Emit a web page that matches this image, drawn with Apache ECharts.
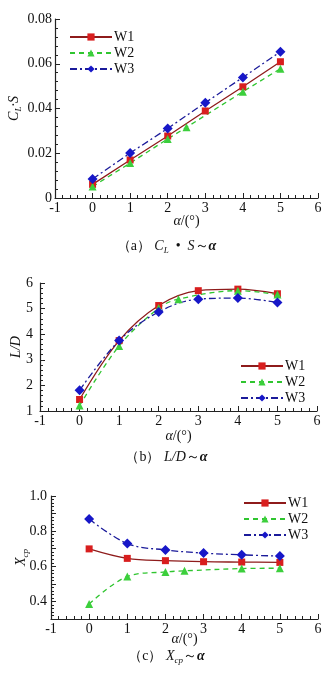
<!DOCTYPE html>
<html>
<head>
<meta charset="utf-8">
<script src="https://cdn.jsdelivr.net/npm/echarts@6/dist/echarts.min.js"></script>
<style>
html, body { margin: 0; padding: 0; background: #fff; }
#chart { width: 333px; height: 676px; }
</style>
</head>
<body>
<div id="chart"></div>
<script>
// 攻角
var alpha = [0, 1, 2, 3, 4, 5]
var alphaW2 = [0, 1, 2, 2.5, 4, 5]
var seriesNames = ['W1', 'W2', 'W3']

// (a) CL·S
var clsW1 = [0.0061, 0.0170, 0.0277, 0.0389, 0.0497, 0.0609]
var clsW2 = [0.0051, 0.0156, 0.0264, 0.0316, 0.0475, 0.0578]
var clsW3 = [0.0085, 0.0201, 0.0311, 0.0426, 0.0539, 0.0654]

// (b) L/D
var ldW1 = [1.45, 3.75, 5.12, 5.70, 5.76, 5.58]
var ldW2 = [1.21, 3.54, 5.02, 5.37, 5.70, 5.55]
var ldW3 = [1.81, 3.75, 4.87, 5.37, 5.41, 5.24]

// (c) Xcp
var xcpW1 = [0.699, 0.645, 0.632, 0.626, 0.624, 0.622]
var xcpW2 = [0.385, 0.542, 0.568, 0.574, 0.587, 0.589]
var xcpW3 = [0.869, 0.729, 0.693, 0.675, 0.665, 0.658]

var serif = '"Liberation Serif", "Times New Roman", serif'
var styles = {
    W1: { line: '#8e1b1b', mark: '#d81e1e', symbol: 'rect', size: 7, type: 'solid' },
    W2: { line: '#2fc52f', mark: '#3ccf3c', symbol: 'triangle', size: 8, type: [5, 4] },
    W3: { line: '#1b1b9a', mark: '#1717c8', symbol: 'diamond', size: 10, type: [7, 3, 2, 3] }
}

function pairs(xs, ys) {
    return xs.map(function (x, i) { return [x, ys[i]] })
}

function makeSeries(name, idx, xs, ys, smooth) {
    var s = styles[name]
    return {
        name: name,
        type: 'line',
        xAxisIndex: idx,
        yAxisIndex: idx,
        data: pairs(xs, ys),
        smooth: smooth,
        symbol: s.symbol,
        symbolSize: s.size,
        showAllSymbol: true,
        lineStyle: { color: s.line, width: 1.3, type: s.type },
        itemStyle: { color: s.mark },
        emphasis: { disabled: true },
        animation: false
    }
}

var axisCommon = {
    axisLine: { onZero: false, lineStyle: { color: '#222', width: 1.2 } },
    axisTick: { inside: true, length: 5, lineStyle: { color: '#222' } },
    minorTick: { show: true, splitNumber: 5, length: 3, lineStyle: { color: '#222' } },
    splitLine: { show: false },
    axisLabel: { color: '#111', fontFamily: serif, fontSize: 14, margin: 3 }
}

function xAxis(idx, gap) {
    return Object.assign({}, axisCommon, {
        type: 'value', gridIndex: idx, min: -1, max: 6, interval: 1,
        name: '{i|α}/(°)', nameLocation: 'middle', nameGap: gap, nameMoveOverlap: false,
        nameTextStyle: { color: '#111', fontFamily: serif, fontSize: 14, rich: { i: { fontStyle: 'italic', fontFamily: serif, fontSize: 14 } } }
    })
}

function yAxis(idx, min, max, interval, name, gap, rich, labelOpt) {
    return Object.assign({}, axisCommon, {
        type: 'value', gridIndex: idx, min: min, max: max, interval: interval,
        name: name, nameLocation: 'middle', nameGap: gap, nameRotate: 90, nameMoveOverlap: false,
        nameTextStyle: { color: '#111', fontFamily: serif, fontSize: 14, rich: rich },
        axisLabel: Object.assign({}, axisCommon.axisLabel, labelOpt)
    })
}

var subRich = {
    i: { fontStyle: 'italic', fontFamily: serif, fontSize: 14, lineHeight: 18 },
    s: { fontStyle: 'italic', fontFamily: serif, fontSize: 9, lineHeight: 9, verticalAlign: 'bottom' }
}

function legend(left, top) {
    return {
        data: seriesNames, orient: 'vertical', left: left, top: top,
        itemWidth: 42, itemHeight: 9, itemGap: 2, selectedMode: false,
        textStyle: { fontFamily: serif, fontSize: 14, color: '#111', padding: [0, 0, 0, -3] }
    }
}

function caption(text, top) {
    return {
        text: text, left: 'center', top: top, padding: 0,
        textStyle: {
            fontFamily: serif, fontSize: 14, fontWeight: 'normal', color: '#111',
            rich: {
                n: { fontFamily: serif, fontSize: 14, lineHeight: 17 },
                i: { fontFamily: serif, fontSize: 14, fontStyle: 'italic', lineHeight: 17 },
                b: { fontFamily: serif, fontSize: 14, fontStyle: 'italic', fontWeight: 'bold', lineHeight: 17 },
                s: { fontFamily: serif, fontSize: 9, fontStyle: 'italic', lineHeight: 9, verticalAlign: 'bottom' }
            }
        }
    }
}

function grid(left, right, top, bottom) {
    return { left: left, right: right, top: top, bottom: bottom, outerBoundsMode: 'none', containLabel: false }
}

var chart = echarts.init(document.getElementById('chart'), null, { renderer: 'canvas' })

var option = {
    backgroundColor: '#fff',
    animation: false,
    title: [
        caption('{n|（a） }{i|C}{s|L}{n|  •  }{i|S}{n|～}{b|α}', 238),
        caption('{n|（b） }{i|L/D}{n|～}{b|α}', 449),
        caption('{n|（c） }{i|X}{s|cp}{n|～}{b|α}', 648)
    ],
    legend: [legend(64, 25), legend(235, 354), legend(238, 491)],
    grid: [
        grid(55, 15, 19, 478),
        grid(40, 16, 283, 265),
        grid(51, 15, 496, 57)
    ],
    xAxis: [xAxis(0, 16), xAxis(1, 18), xAxis(2, 13)],
    yAxis: [
        yAxis(0, 0, 0.08, 0.02, '{i|C}{s|L}{i|·S}', 32, subRich, {}),
        yAxis(1, 1, 6, 1, '{i|L/D}', 15, subRich, { margin: 7 }),
        yAxis(2, 0.3, 1.0, 0.1, '{i|X}{s|cp}', 21, subRich, {
            margin: 4,
            formatter: function (v) {
                return Math.round(v * 10) % 2 === 0 ? v.toFixed(1) : ''
            }
        })
    ],
    series: [
        makeSeries('W1', 0, alpha, clsW1, false),
        makeSeries('W2', 0, alphaW2, clsW2, false),
        makeSeries('W3', 0, alpha, clsW3, false),
        makeSeries('W1', 1, alpha, ldW1, 0.35),
        makeSeries('W2', 1, alphaW2, ldW2, 0.35),
        makeSeries('W3', 1, alpha, ldW3, 0.35),
        makeSeries('W1', 2, alpha, xcpW1, 0.35),
        makeSeries('W2', 2, alphaW2, xcpW2, 0.35),
        makeSeries('W3', 2, alpha, xcpW3, 0.35)
    ]
}

chart.setOption(option)
</script>
</body>
</html>
